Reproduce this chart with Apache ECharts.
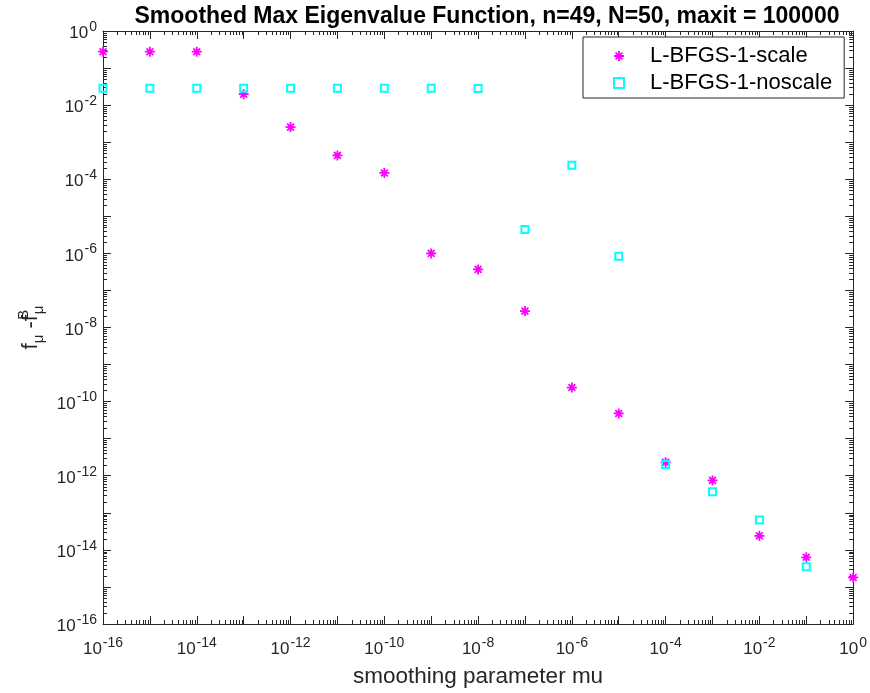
<!DOCTYPE html>
<html>
<head>
<meta charset="utf-8">
<script src="https://cdn.jsdelivr.net/npm/echarts@6/dist/echarts.min.js"></script>
<style>
  html, body { margin: 0; padding: 0; background: #ffffff; }
  #chart { width: 870px; height: 693px; }
</style>
</head>
<body>
<div id="chart"></div>
<script>
// Smoothing parameter values (one per decade)
const muValues = [1e-16, 1e-15, 1e-14, 1e-13, 1e-12, 1e-11, 1e-10, 1e-9, 1e-8,
                  1e-7, 1e-6, 1e-5, 1e-4, 1e-3, 1e-2, 1e-1, 1e0];

// f_mu - f^B_mu for the scaled L-BFGS run
const scaleGap = [0.277, 0.277, 0.277, 0.0197, 2.55e-3, 4.4e-4, 1.48e-4, 1.0e-6, 3.7e-7,
                  2.77e-8, 2.4e-10, 4.8e-11, 2.3e-12, 7.5e-13, 2.4e-14, 6.3e-15, 1.8e-15];

// f_mu - f^B_mu for the unscaled L-BFGS run (no result at mu = 1)
const noscaleGap = [0.0286, 0.0286, 0.0286, 0.0286, 0.0286, 0.0286, 0.0286, 0.0286, 0.0280,
                    4.4e-6, 2.37e-4, 8.4e-7, 2.0e-12, 3.7e-13, 6.4e-14, 3.5e-15, null];

// Exponents that carry a tick label on both axes
const labelledExponents = [-16, -14, -12, -10, -8, -6, -4, -2, 0];

// Sub-decade multipliers for the minor tick marks
const minorMultipliers = [2, 3, 4, 5, 6, 7, 8, 9];

const seriesNames = ['L-BFGS-1-scale', 'L-BFGS-1-noscale'];

const FONT = '"Liberation Sans", Arial, Helvetica, sans-serif';
const AXIS_COLOR = '#262626';
const ASTERISK = 'path://M5,0L5,10M0,5L10,5M1.6,1.6L8.4,8.4M8.4,1.6L1.6,8.4';
const SQUARE = 'path://M0,0L10,0L10,10L0,10Z';

function toPairs(ys) {
  return muValues.map((m, i) => [m, ys[i]]).filter(p => p[1] != null);
}

function expOf(v) { return Math.round(Math.log10(v)); }

function tickLabel(v) {
  const e = expOf(v);
  if (labelledExponents.indexOf(e) < 0) return '';
  return '{b|10}{e|' + e + '}';
}

const labelRich = {
  b: { fontFamily: FONT, fontSize: 17, color: AXIS_COLOR, verticalAlign: 'bottom', lineHeight: 22 },
  e: { fontFamily: FONT, fontSize: 14, color: AXIS_COLOR, verticalAlign: 'top', lineHeight: 22, padding: [0, 0, 0, 1] }
};

// Minor tick positions: kind 0 → x axis, kind 1 → y axis
const minorTickData = [];
for (let e = -16; e < 0; e++) {
  minorMultipliers.forEach(m => {
    const v = m * Math.pow(10, e);
    minorTickData.push([v, 1e-8, 0]);
    minorTickData.push([1e-8, v, 1]);
  });
}

function renderMinorTick(params, api) {
  const cs = params.coordSys;
  const kind = api.value(2);
  const style = { stroke: AXIS_COLOR, lineWidth: 1 };
  const len = 4;
  if (kind === 0) {
    const px = Math.round(api.coord([api.value(0), 1e-8])[0]) + 0.5;
    return {
      type: 'group',
      children: [
        { type: 'line', shape: { x1: px, y1: cs.y + cs.height, x2: px, y2: cs.y + cs.height - len }, style },
        { type: 'line', shape: { x1: px, y1: cs.y, x2: px, y2: cs.y + len }, style }
      ]
    };
  }
  const py = Math.round(api.coord([1e-8, api.value(1)])[1]) + 0.5;
  return {
    type: 'group',
    children: [
      { type: 'line', shape: { x1: cs.x, y1: py, x2: cs.x + len, y2: py }, style },
      { type: 'line', shape: { x1: cs.x + cs.width, y1: py, x2: cs.x + cs.width - len, y2: py }, style }
    ]
  };
}

function logAxis(extra) {
  return Object.assign({
    type: 'log',
    logBase: 10,
    min: 1e-16,
    max: 1,
    interval: 1,
    axisLine: { show: true, lineStyle: { color: AXIS_COLOR, width: 1 } },
    axisTick: { show: true, inside: true, length: 8, lineStyle: { color: AXIS_COLOR, width: 1 } },
    splitLine: { show: false },
    minorTick: { show: false }
  }, extra);
}

const chart = echarts.init(document.getElementById('chart'), null, { renderer: 'canvas' });

chart.setOption({
  animation: false,
  backgroundColor: '#ffffff',
  title: {
    text: 'Smoothed Max Eigenvalue Function, n=49, N=50, maxit = 100000',
    left: 482,
    top: 0,
    textAlign: 'center',
    textStyle: { fontFamily: FONT, fontSize: 23, fontWeight: 'bold', color: '#000000' }
  },
  grid: { left: 103, top: 31, right: 15, bottom: 68, containLabel: false },
  legend: {
    orient: 'vertical',
    left: 583,
    top: 37,
    padding: [8, 12, 4, 30],
    itemWidth: 10,
    itemHeight: 10,
    itemGap: 5,
    backgroundColor: '#ffffff',
    borderColor: AXIS_COLOR,
    borderWidth: 1,
    borderRadius: 0,
    formatter: name => '{s|}{t|' + name + '}',
    textStyle: {
      rich: {
        s: { width: 21 },
        t: { fontFamily: FONT, fontSize: 22, color: '#000000', lineHeight: 20 }
      }
    },
    data: [
      { name: seriesNames[0], icon: ASTERISK,
        itemStyle: { color: '#ff00ff', borderColor: '#ff00ff', borderWidth: 1.8 } },
      { name: seriesNames[1], icon: SQUARE,
        itemStyle: { color: 'transparent', borderColor: '#00ffff', borderWidth: 2 } }
    ]
  },
  xAxis: [
    logAxis({
      position: 'bottom',
      name: 'smoothing parameter mu',
      nameLocation: 'middle',
      nameGap: 41,
      nameTextStyle: { fontFamily: FONT, fontSize: 22.5, color: AXIS_COLOR },
      axisLabel: { show: true, margin: 12, formatter: tickLabel, rich: labelRich, showMinLabel: true, showMaxLabel: true, hideOverlap: false }
    }),
    logAxis({ position: 'top', axisLabel: { show: false } })
  ],
  yAxis: [
    logAxis({
      position: 'left',
      name: '{f|f}{s|μ}{f| -f}{p|B}{s|μ}',
      nameLocation: 'middle',
      nameRotate: 90,
      nameGap: 55,
      nameTextStyle: {
        rich: {
          f: { fontFamily: FONT, fontSize: 22, color: AXIS_COLOR, lineHeight: 30, verticalAlign: 'middle' },
          s: { fontFamily: FONT, fontSize: 15, color: AXIS_COLOR, lineHeight: 30, verticalAlign: 'bottom' },
          p: { fontFamily: FONT, fontSize: 15, color: AXIS_COLOR, lineHeight: 30, verticalAlign: 'top', width: 1 }
        }
      },
      axisLabel: { show: true, margin: 6, formatter: tickLabel, rich: labelRich, showMinLabel: true, showMaxLabel: true, hideOverlap: false }
    }),
    logAxis({ position: 'right', axisLabel: { show: false } })
  ],
  series: [
    {
      type: 'custom',
      name: 'minorTicks',
      xAxisIndex: 0,
      yAxisIndex: 0,
      silent: true,
      clip: false,
      renderItem: renderMinorTick,
      data: minorTickData,
      z: 1
    },
    {
      type: 'scatter',
      name: seriesNames[0],
      xAxisIndex: 0,
      yAxisIndex: 0,
      symbol: ASTERISK,
      symbolSize: 10,
      itemStyle: { color: '#ff00ff', borderColor: '#ff00ff', borderWidth: 1.8, opacity: 1 },
      data: toPairs(scaleGap),
      z: 3
    },
    {
      type: 'scatter',
      name: seriesNames[1],
      xAxisIndex: 0,
      yAxisIndex: 0,
      symbol: SQUARE,
      symbolSize: 7,
      itemStyle: { color: 'transparent', borderColor: '#00ffff', borderWidth: 2, opacity: 1 },
      data: toPairs(noscaleGap),
      z: 4
    }
  ]
});
</script>
</body>
</html>
